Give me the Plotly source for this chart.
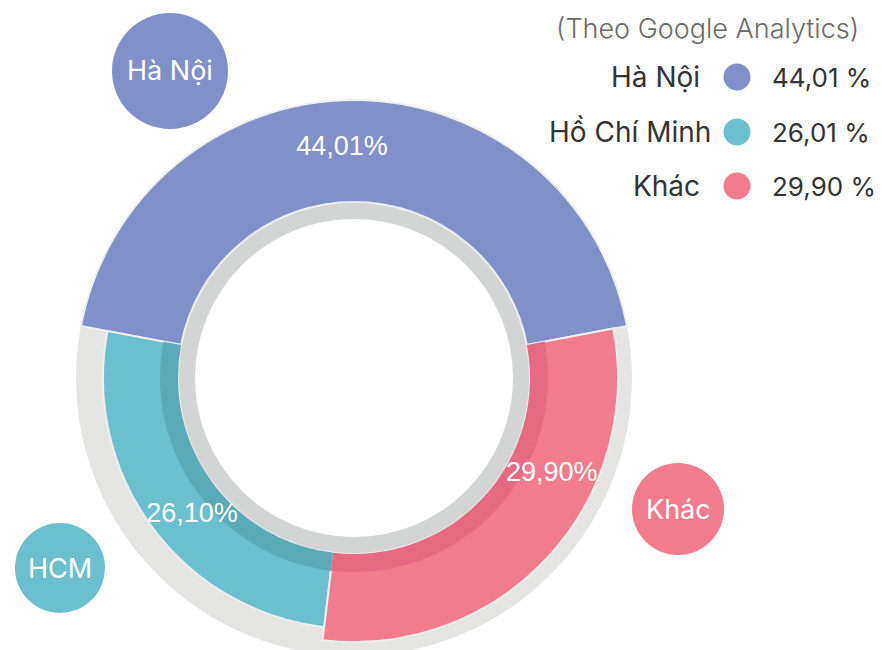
import plotly.graph_objects as go

# ---- data ----
categories = ["Hà Nội", "HCM", "Khác"]
slice_values = [44.01, 26.10, 29.90]
slice_labels = ["44,01%", "26,10%", "29,90%"]
legend_names = ["Hà Nội", "Hồ Chí Minh", "Khác"]
legend_values = ["44,01 %", "26,01 %", "29,90 %"]
source_note = "(Theo Google Analytics)"

# ---- style ----
W, H = 882, 650
OFF = 8                    # page body margin of the browser
CX, CY = 354, 378          # donut centre in screen pixels
RPIX = 280                 # polar domain radius in pixels
colors = ["#8190c8", "#6bbfce", "#f27b8e"]
dark_colors = ["#5aaab8", "#e56a82"]
outer_r = [278, 251, 264]
inner_r = 176
band_r = 194
label_r = [230, 212, 220]
label_nudge = [3, 4, 17]
bubble = [(170, 71, 58), (60, 568, 45), (678, 509, 46)]
legend_y = [77, 132, 186]
legend_name_right = [700, 711, 700]
FONT = "Inter"


def px(x):
    return (x - OFF) / W


def py(y):
    return 1 - (y - OFF) / H


# angular geometry derived from the values
widths = [v * 3.6 for v in slice_values]
start = 90 - widths[0] / 2
centers = []
acc = start
for w in widths:
    centers.append(acc + w / 2)
    acc += w

fig = go.Figure()

# background rings
fig.add_trace(go.Barpolar(theta=[0], width=[360], base=[inner_r], r=[278 - inner_r],
                          marker=dict(color="#e4e4e3", line=dict(width=0)),
                          hoverinfo="skip", showlegend=False))
fig.add_trace(go.Barpolar(theta=[0], width=[360], base=[159], r=[inner_r - 159],
                          marker=dict(color="#d3d5d4", line=dict(width=0)),
                          hoverinfo="skip", showlegend=False))

# slices
fig.add_trace(go.Barpolar(theta=centers, width=widths, base=[inner_r] * 3,
                          r=[o - inner_r for o in outer_r],
                          marker=dict(color=colors, line=dict(color="#eeeeee", width=2)),
                          text=categories, hoverinfo="text", showlegend=False))
# darker inner bands
fig.add_trace(go.Barpolar(theta=centers[1:], width=widths[1:], base=[inner_r] * 2,
                          r=[band_r - inner_r] * 2,
                          marker=dict(color=dark_colors, line=dict(width=0)),
                          hoverinfo="skip", showlegend=False))

# value labels
fig.add_trace(go.Scatterpolar(theta=[c + n for c, n in zip(centers, label_nudge)], r=label_r,
                              mode="text", text=slice_labels,
                              textfont=dict(family="Liberation Sans", size=27, color="white"),
                              cliponaxis=False, hoverinfo="skip", showlegend=False))

shapes = []
annotations = []

# bubbles
for (bx, by, br), col, name in zip(bubble, colors, categories):
    shapes.append(dict(type="circle", xref="paper", yref="paper",
                       x0=px(bx - br), x1=px(bx + br), y0=py(by + br), y1=py(by - br),
                       fillcolor=col, line=dict(width=0), layer="above"))
    annotations.append(dict(x=px(bx), y=py(by), xref="paper", yref="paper", text=name,
                            showarrow=False, xanchor="center", yanchor="middle",
                            font=dict(family=FONT, size=27, color="white")))

# legend
annotations.append(dict(x=px(861), y=py(29), xref="paper", yref="paper", text=source_note,
                        showarrow=False, xanchor="right", yanchor="middle",
                        font=dict(family=FONT, size=27, color="#6a6a6a", weight=300)))
for ly, name, val, col, nr in zip(legend_y, legend_names, legend_values, colors, legend_name_right):
    annotations.append(dict(x=px(nr + 2), y=py(ly), xref="paper", yref="paper", text=name,
                            showarrow=False, xanchor="right", yanchor="middle",
                            font=dict(family=FONT, size=28, color="#333333")))
    annotations.append(dict(x=px(770), y=py(ly), xref="paper", yref="paper", text=val,
                            showarrow=False, xanchor="left", yanchor="middle",
                            font=dict(family=FONT, size=26, color="#333333")))
    shapes.append(dict(type="circle", xref="paper", yref="paper",
                       x0=px(737 - 13.5), x1=px(737 + 13.5), y0=py(ly + 13.5), y1=py(ly - 13.5),
                       fillcolor=col, line=dict(width=0)))

fig.update_layout(
    width=W, height=H,
    margin=dict(l=0, r=0, t=0, b=0),
    paper_bgcolor="white", plot_bgcolor="white",
    polar=dict(
        domain=dict(x=[px(CX - RPIX), px(CX + RPIX)], y=[py(CY + RPIX), py(CY - RPIX)]),
        bgcolor="rgba(0,0,0,0)",
        radialaxis=dict(range=[0, RPIX], visible=False, showgrid=False),
        angularaxis=dict(visible=False, showgrid=False, direction="counterclockwise", rotation=0),
        hole=0,
    ),
    shapes=shapes,
    annotations=annotations,
    showlegend=False,
)

fig.write_html("out.html")
